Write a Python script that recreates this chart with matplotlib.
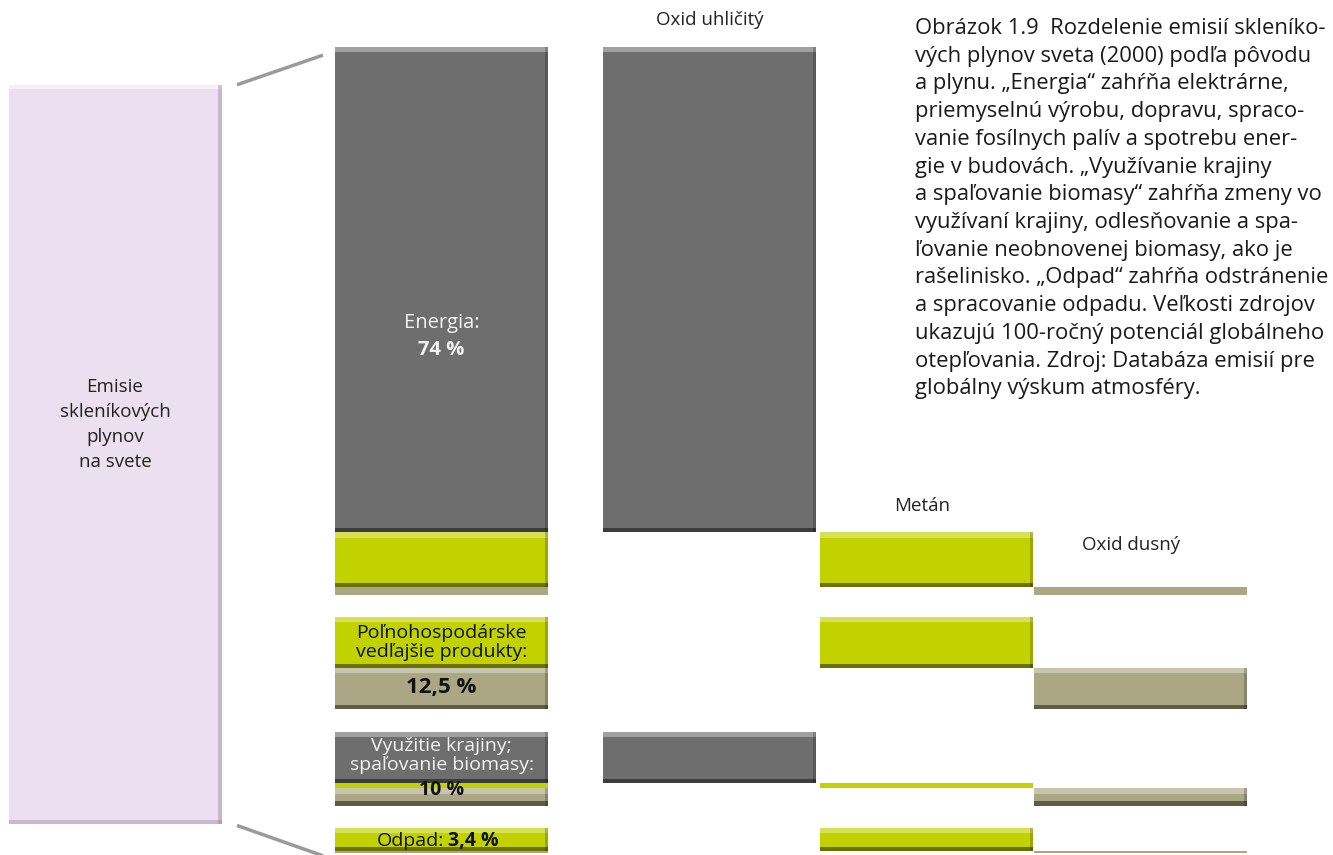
import matplotlib
matplotlib.use('Agg')
import matplotlib.pyplot as plt
import numpy as np

# --- data (percent of world greenhouse gas emissions, 2000) ---
sectors = ['Energia', 'Poľnohospodárske vedľajšie produkty',
           'Využitie krajiny; spaľovanie biomasy', 'Odpad']
sector_share = [74.0, 12.5, 10.0, 3.4]
co2 = [65.6, 0.0, 7.0, 0.0]
ch4 = [7.4, 6.9, 0.7, 3.2]
n2o = [1.0, 5.6, 2.3, 0.2]
gas_labels = ['Oxid uhličitý', 'Metán', 'Oxid dusný']

COLORS = {
    'co2':   '#6E6E6E',
    'ch4':   '#C2D100',
    'n2o':   '#ABA785',
    'total': '#ECDFEF',
    'line':  '#9A9A9A',
}

FONT = ['Open Sans', 'DejaVu Sans']
plt.rcParams['font.family'] = FONT

W, H = 1333, 855
fig = plt.figure(figsize=(W / 100, H / 100), dpi=100)
# axes: x in pixels, y in percent (inverted), starting at 47 px from top
top_px = 47
ax = fig.add_axes([0, 0, 1, (H - top_px) / H])
SCALE = 7.4  # px per percent
ax.set_xlim(0, W)
ax.set_ylim((H - top_px) / SCALE, 0)
ax.axis('off')

GAP = 3.0
starts = np.concatenate([[0], np.cumsum(np.array(sector_share) + GAP)[:-1]])

# column geometry (px)
col_x = {'sector': 335, 'co2': 603, 'ch4': 820, 'n2o': 1034}
col_w = 213


def bevel_bar(x0, bottom, h, color, flat=False):
    ax.bar(x0, h, width=col_w, bottom=bottom, color=color, align='edge', lw=0)
    if flat or h < 2:
        return
    ax.bar(x0, 0.7, width=col_w, bottom=bottom, color='white', alpha=0.35,
           align='edge', lw=0)
    ax.bar(x0, 0.55, width=col_w, bottom=bottom + h - 0.55, color='black',
           alpha=0.45, align='edge', lw=0)
    ax.bar(x0 + col_w - 3, h, width=3, bottom=bottom, color='black',
           alpha=0.2, align='edge', lw=0)


for i in range(len(sectors)):
    s = starts[i]
    # sector column: stacked
    b = s
    for val, key in [(co2[i], 'co2'), (ch4[i], 'ch4'), (n2o[i], 'n2o')]:
        if val > 0:
            bevel_bar(col_x['sector'], b, val, COLORS[key])
        b += val
    # gas columns: staircase
    if co2[i] > 0:
        bevel_bar(col_x['co2'], s, co2[i], COLORS['co2'])
    if ch4[i] > 0:
        bevel_bar(col_x['ch4'], s + co2[i], ch4[i], COLORS['ch4'])
    if n2o[i] > 0:
        bevel_bar(col_x['n2o'], s + co2[i] + ch4[i], n2o[i], COLORS['n2o'])

# total bar on the left
total = sum(sector_share)
tot_bottom = 5.1
ax.bar(9, total, width=213, bottom=tot_bottom, color=COLORS['total'],
       align='edge', lw=0)
ax.bar(9, 0.6, width=213, bottom=tot_bottom, color='white', alpha=0.5,
       align='edge', lw=0)
ax.bar(9 + 209, total, width=4, bottom=tot_bottom, color='#8A6E90',
       alpha=0.35, align='edge', lw=0)
ax.bar(9, 0.5, width=213, bottom=tot_bottom + total - 0.5, color='#8A6E90',
       alpha=0.35, align='edge', lw=0)

# connector lines
ax.plot([237, 323], [tot_bottom, 1.1], color=COLORS['line'], lw=2.5,
        solid_capstyle='butt')
ax.plot([237, 323], [tot_bottom + total + 0.2, starts[-1] + sector_share[-1] + 0.4],
        color=COLORS['line'], lw=2.5, solid_capstyle='butt')

# --- texts ---
cx = col_x['sector'] + col_w / 2
ax.text(115, tot_bottom + total / 2 - 4.0, 'Emisie\nskleníkových\nplynov\nna svete',
        ha='center', va='center', fontsize=13.5, color='#222222', linespacing=1.5)

ax.text(cx, starts[0] + 37.3, 'Energia:', ha='center', va='center',
        fontsize=14.5, color='#F2F2F2')
ax.text(cx, starts[0] + 40.9, f'{sector_share[0]:g} %', ha='center', va='center',
        fontsize=14.5, color='#F2F2F2', fontweight='bold')

ax.text(cx, starts[1] + 3.5, 'Poľnohospodárske\nvedľajšie produkty:', ha='center',
        va='center', fontsize=14, color='#111111', linespacing=1.05)
ax.text(cx, starts[1] + 9.6, f'{sector_share[1]:g} %'.replace('.', ','),
        ha='center', va='center', fontsize=16, color='#111111', fontweight='bold')

ax.text(cx, starts[2] + 3.2, 'Využitie krajiny;\nspaľovanie biomasy:', ha='center',
        va='center', fontsize=14, color='#F2F2F2', linespacing=1.05)
ax.text(cx, starts[2] + 7.9, f'{sector_share[2]:g} %', ha='center', va='center',
        fontsize=14, color='#111111', fontweight='bold')

ax.text(cx + 2, starts[3] + 1.8, 'Odpad:', ha='right', va='center',
        fontsize=14, color='#111111')
ax.text(cx + 7, starts[3] + 1.8, f'{sector_share[3]:g} %'.replace('.', ','),
        ha='left', va='center', fontsize=14, color='#111111', fontweight='bold')

fig.text(710 / W, 1 - 20 / H, gas_labels[0], ha='center', va='center',
         fontsize=13.5, color='#222222')
fig.text(922 / W, 1 - 506 / H, gas_labels[1], ha='center', va='center',
         fontsize=13.5, color='#222222')
fig.text(1131 / W, 1 - 545 / H, gas_labels[2], ha='center', va='center',
         fontsize=13.5, color='#222222')

caption = ('Obrázok 1.9  Rozdelenie emisií skleníko-\n'
           'vých plynov sveta (2000) podľa pôvodu\n'
           'a plynu. „Energia“ zahŕňa elektrárne,\n'
           'priemyselnú výrobu, dopravu, spraco-\n'
           'vanie fosílnych palív a spotrebu ener-\n'
           'gie v budovách. „Využívanie krajiny\n'
           'a spaľovanie biomasy“ zahŕňa zmeny vo\n'
           'využívaní krajiny, odlesňovanie a spa-\n'
           'ľovanie neobnovenej biomasy, ako je\n'
           'rašelinisko. „Odpad“ zahŕňa odstránenie\n'
           'a spracovanie odpadu. Veľkosti zdrojov\n'
           'ukazujú 100-ročný potenciál globálneho\n'
           'otepľovania. Zdroj: Databáza emisií pre\n'
           'globálny výskum atmosféry.')
fig.text(915 / W, 1 - 18 / H, caption, ha='left', va='top', fontsize=15.8,
         color='#1A1A1A', linespacing=1.42)

fig.savefig('out.png', dpi=100)
